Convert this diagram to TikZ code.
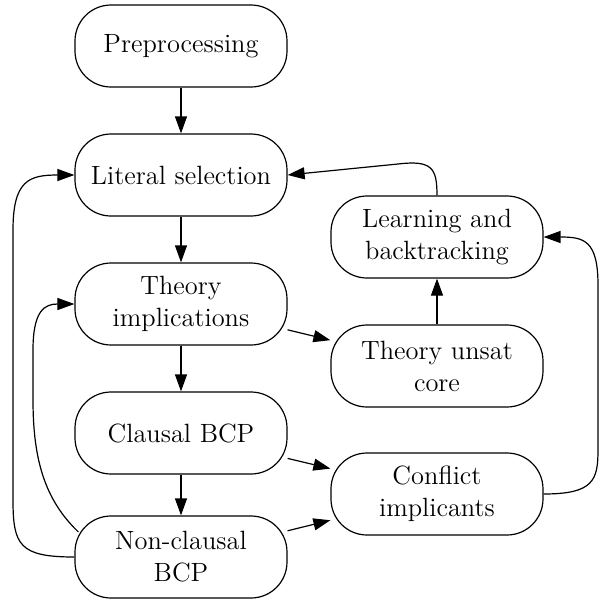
\documentclass[tikz,border=0pt]{standalone}
\usepackage{tikz}
\usetikzlibrary{arrows.meta, calc}

\begin{document}
\begin{tikzpicture}[x=0.5pt, y=-0.5pt,
  box/.style={draw, line width=0.6pt, rounded corners=18pt, minimum width=106pt,
    minimum height=41pt, align=center, font=\fontsize{13.2}{16}\selectfont},
  arr/.style={line width=0.6pt, -{Triangle[length=8.5pt, width=6pt]}}]
\useasboundingbox (0,0) rectangle (600,602);

% Main chain
\node[box] (pre) at (181, 46) {Preprocessing};
\node[box] (litsel) at (181, 175) {Literal selection};
\node[box] (thimp) at (181, 304) {Theory\\implications};
\node[box] (clbcp) at (181, 433) {Clausal BCP};
\node[box] (nclbcp) at (181, 557) {Non-clausal\\BCP};

% Conflict side
\node[box] (learn) at (437, 237) {Learning and\\backtracking};
\node[box] (unsat) at (437, 366) {Theory unsat\\core};
\node[box] (confl) at (437, 494) {Conflict\\implicants};

% Straight edges
\draw[arr] (pre) -- (litsel);
\draw[arr] (litsel) -- (thimp);
\draw[arr] (thimp) -- (clbcp);
\draw[arr] (clbcp) -- (nclbcp);
\draw[arr] (thimp) -- (unsat);
\draw[arr] (unsat) -- (learn);
\draw[arr] (clbcp) -- (confl);
\draw[arr] (nclbcp) -- (confl);

% Back edges
\draw[arr] (learn.north) .. controls (437, 168) and (432, 160) .. (398, 164) -- (litsel.east);
\draw[arr] (confl.east) .. controls +(50, 0) and +(0, 30) .. (598, 450)
  -- (598, 285) .. controls +(0, -45) and +(40, 0) .. (learn.east);
\draw[arr] (nclbcp.west) .. controls +(-55, 0) and +(0, 45) .. (13, 500)
  -- (13, 230) .. controls +(0, -50) and +(-45, 0) .. (litsel.west);
\draw[arr] ($(nclbcp.west)+(4, -25)$) .. controls (45, 500) and (33, 460) .. (33, 400)
  -- (33, 350) .. controls (33, 310) and (45, 304) .. (thimp.west);
\end{tikzpicture}
\end{document}
